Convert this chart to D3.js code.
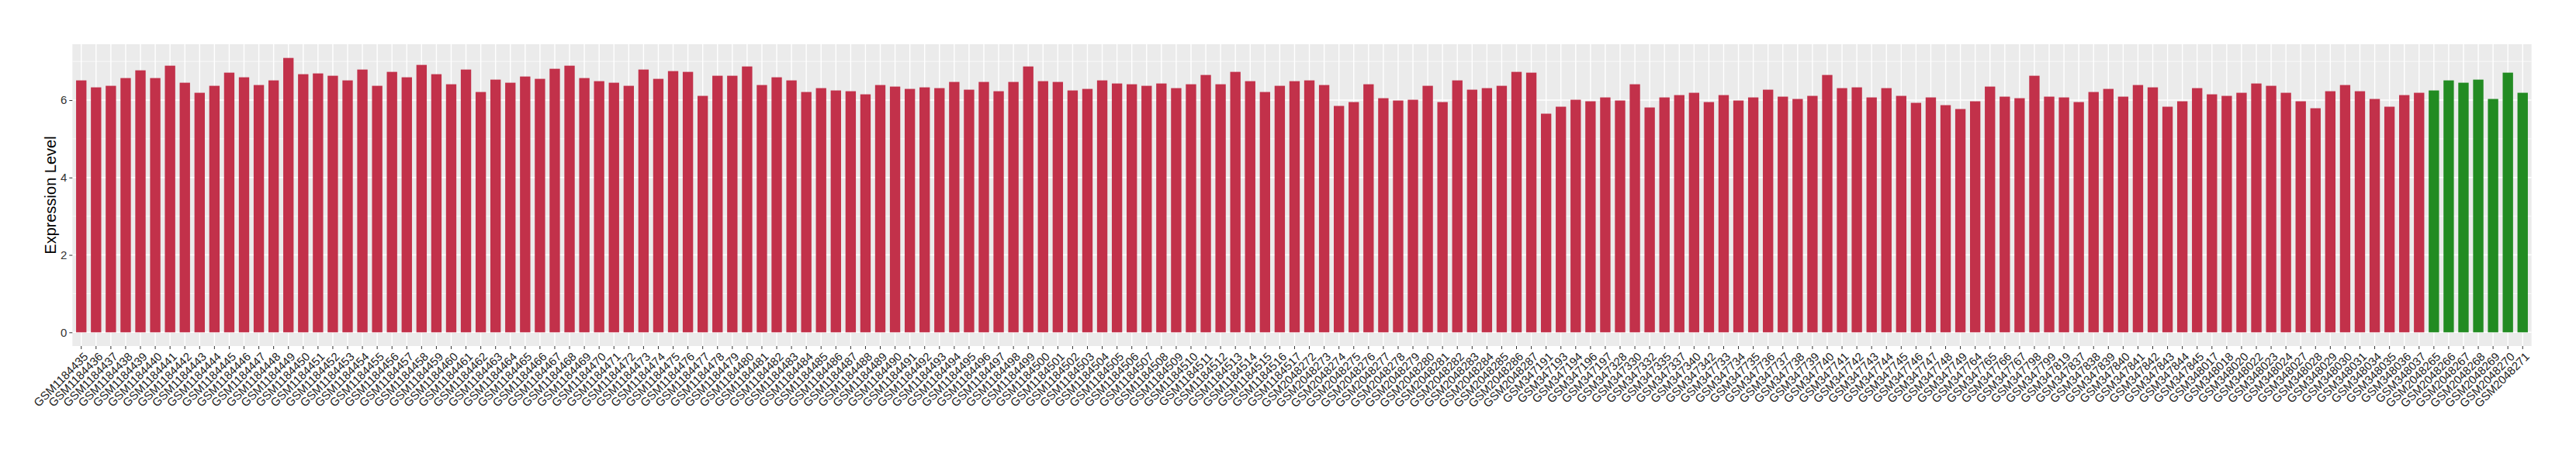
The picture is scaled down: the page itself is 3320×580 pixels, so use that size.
<!DOCTYPE html>
<html>
<head>
<meta charset="utf-8">
<script src="https://cdn.jsdelivr.net/npm/d3@7"></script>
<style>
  body { margin: 0; background: #fff; }
  text { font-family: "Liberation Sans", Arial, sans-serif; }
</style>
</head>
<body>
<div id="chart"></div>
<script>
// canvas
const width = 3320,
  height = 580,
  panelLeft = 93.3,
  panelRight = 3262.7,
  panelTop = 57,
  panelBottom = 446

// sample ids, in plotted order
const samples = [
  'GSM1184435','GSM1184436','GSM1184437','GSM1184438','GSM1184439','GSM1184440','GSM1184441','GSM1184442','GSM1184443','GSM1184444',
  'GSM1184445','GSM1184446','GSM1184447','GSM1184448','GSM1184449','GSM1184450','GSM1184451','GSM1184452','GSM1184453','GSM1184454',
  'GSM1184455','GSM1184456','GSM1184457','GSM1184458','GSM1184459','GSM1184460','GSM1184461','GSM1184462','GSM1184463','GSM1184464',
  'GSM1184465','GSM1184466','GSM1184467','GSM1184468','GSM1184469','GSM1184470','GSM1184471','GSM1184472','GSM1184473','GSM1184474',
  'GSM1184475','GSM1184476','GSM1184477','GSM1184478','GSM1184479','GSM1184480','GSM1184481','GSM1184482','GSM1184483','GSM1184484',
  'GSM1184485','GSM1184486','GSM1184487','GSM1184488','GSM1184489','GSM1184490','GSM1184491','GSM1184492','GSM1184493','GSM1184494',
  'GSM1184495','GSM1184496','GSM1184497','GSM1184498','GSM1184499','GSM1184500','GSM1184501','GSM1184502','GSM1184503','GSM1184504',
  'GSM1184505','GSM1184506','GSM1184507','GSM1184508','GSM1184509','GSM1184510','GSM1184511','GSM1184512','GSM1184513','GSM1184514',
  'GSM1184515','GSM1184516','GSM1184517',
  'GSM2048272','GSM2048273','GSM2048274','GSM2048275','GSM2048276','GSM2048277','GSM2048278','GSM2048279','GSM2048280','GSM2048281',
  'GSM2048282','GSM2048283','GSM2048284','GSM2048285','GSM2048286','GSM2048287',
  'GSM347191','GSM347193','GSM347194','GSM347196','GSM347197','GSM347328','GSM347330','GSM347332','GSM347335','GSM347337',
  'GSM347340','GSM347342','GSM347733','GSM347734','GSM347735','GSM347736','GSM347737','GSM347738','GSM347739','GSM347740',
  'GSM347741','GSM347742','GSM347743','GSM347744','GSM347745','GSM347746','GSM347747','GSM347748','GSM347749','GSM347764',
  'GSM347765','GSM347766','GSM347767','GSM347798','GSM347799','GSM347819','GSM347837','GSM347838','GSM347839','GSM347840',
  'GSM347841','GSM347842','GSM347843','GSM347844','GSM347845','GSM348017','GSM348018','GSM348020','GSM348022','GSM348023',
  'GSM348024','GSM348027','GSM348028','GSM348029','GSM348030','GSM348031','GSM348034','GSM348035','GSM348036','GSM348037',
  'GSM2048265','GSM2048266','GSM2048267','GSM2048268','GSM2048269','GSM2048270','GSM2048271'
]

// expression level per sample
const values = [
  6.51, 6.33, 6.37, 6.57, 6.77, 6.57, 6.89, 6.45, 6.19, 6.37,
  6.71, 6.59, 6.39, 6.51, 7.09, 6.67, 6.69, 6.63, 6.51, 6.79,
  6.37, 6.73, 6.59, 6.91, 6.67, 6.41, 6.79, 6.21, 6.53, 6.45,
  6.61, 6.55, 6.81, 6.89, 6.57, 6.49, 6.45, 6.37, 6.79, 6.55,
  6.75, 6.73, 6.11, 6.63, 6.63, 6.87, 6.39, 6.59, 6.51, 6.21,
  6.31, 6.25, 6.23, 6.15, 6.39, 6.35, 6.29, 6.33, 6.31, 6.47,
  6.27, 6.47, 6.23, 6.47, 6.87, 6.49, 6.47, 6.25, 6.29, 6.51,
  6.43, 6.41, 6.37, 6.43, 6.31, 6.41, 6.65, 6.41, 6.73, 6.49,
  6.21, 6.37, 6.49,
  6.51, 6.39, 5.85, 5.95, 6.41, 6.05, 5.99, 6.01, 6.37, 5.95,
  6.51, 6.27, 6.31, 6.37, 6.73, 6.71,
  5.65, 5.83, 6.01, 5.97, 6.07, 5.99, 6.41, 5.81, 6.07, 6.13,
  6.19, 5.95, 6.13, 5.99, 6.07, 6.27, 6.09, 6.03, 6.11, 6.65,
  6.31, 6.33, 6.07, 6.31, 6.11, 5.93, 6.07, 5.87, 5.77, 5.97,
  6.35, 6.09, 6.05, 6.63, 6.09, 6.07, 5.95, 6.21, 6.29, 6.09,
  6.39, 6.33, 5.83, 5.97, 6.31, 6.15, 6.11, 6.19, 6.43, 6.37,
  6.19, 5.97, 5.79, 6.23, 6.39, 6.23, 6.03, 5.83, 6.13, 6.19,
  6.25, 6.51, 6.45, 6.53, 6.03, 6.71, 6.19
]

// group of each sample: first 159 are "other", last 7 are "target"
const groups = samples.map((s, i) => i < 159 ? 'other' : 'target')
const groupColors = { other: '#c2314a', target: '#228b22' }

const yTicks = [0, 2, 4, 6]
const yMinor = [1, 3, 5, 7]

const svg = d3.select('#chart')
  .append('svg')
  .attr('width', width)
  .attr('height', height)

const data = samples.map((s, i) => ({ sample: s, value: values[i], group: groups[i] }))

const maxV = d3.max(values)
const yScale = d3.scaleLinear()
  .domain([-0.05 * maxV, 1.05 * maxV])
  .range([panelBottom, panelTop])

const xScale = d3.scaleBand()
  .domain(samples)
  .range([panelLeft, panelRight])
  .paddingInner(0.3)
  .paddingOuter(0.25)

// panel background
svg.append('rect')
  .attr('x', panelLeft)
  .attr('y', panelTop)
  .attr('width', panelRight - panelLeft)
  .attr('height', panelBottom - panelTop)
  .attr('fill', '#ebebeb')

// grid
svg.append('g').selectAll('line')
  .data(yMinor.filter(d => yScale(d) > panelTop))
  .enter().append('line')
  .attr('x1', panelLeft).attr('x2', panelRight)
  .attr('y1', d => yScale(d)).attr('y2', d => yScale(d))
  .attr('stroke', '#fff').attr('stroke-width', 0.7)

svg.append('g').selectAll('line')
  .data(yTicks)
  .enter().append('line')
  .attr('x1', panelLeft).attr('x2', panelRight)
  .attr('y1', d => yScale(d)).attr('y2', d => yScale(d))
  .attr('stroke', '#fff').attr('stroke-width', 1.4)

svg.append('g').selectAll('line')
  .data(samples)
  .enter().append('line')
  .attr('x1', d => xScale(d) + xScale.bandwidth() / 2)
  .attr('x2', d => xScale(d) + xScale.bandwidth() / 2)
  .attr('y1', panelTop).attr('y2', panelBottom)
  .attr('stroke', '#fff').attr('stroke-width', 1.4)

// bars
svg.append('g').selectAll('rect')
  .data(data)
  .enter()
  .append('rect')
  .attr('x', d => xScale(d.sample))
  .attr('y', d => yScale(d.value))
  .attr('width', xScale.bandwidth())
  .attr('height', d => yScale(0) - yScale(d.value))
  .attr('fill', d => groupColors[d.group])

// y axis
const yAxis = d3.axisLeft(yScale).tickValues(yTicks).tickSize(4).tickPadding(3)
const gy = svg.append('g')
  .attr('transform', `translate(${panelLeft},0)`)
  .call(yAxis)
gy.select('.domain').remove()
gy.selectAll('.tick line').attr('stroke', '#333').attr('stroke-width', 1)
gy.selectAll('.tick text')
  .attr('fill', '#333')
  .style('font-size', '15px')
  .style('font-family', '"Liberation Sans", Arial, sans-serif')

// x axis
const xAxis = d3.axisBottom(xScale).tickSize(4).tickPadding(0)
const gx = svg.append('g')
  .attr('transform', `translate(0,${panelBottom})`)
  .call(xAxis)
gx.select('.domain').remove()
gx.selectAll('.tick line').attr('stroke', '#333').attr('stroke-width', 1)
gx.selectAll('.tick text')
  .attr('fill', '#222')
  .style('font-size', '15px')
  .style('font-family', '"Liberation Sans", Arial, sans-serif')
  .attr('text-anchor', 'end')
  .attr('y', 0)
  .attr('dy', '0.72em')
  .attr('transform', 'translate(2,7) rotate(-45)')

// y title
svg.append('text')
  .attr('transform', `translate(72,${(panelTop + panelBottom) / 2}) rotate(-90)`)
  .attr('text-anchor', 'middle')
  .style('font-size', '20px')
  .attr('fill', '#000')
  .text('Expression Level')
</script>
</body>
</html>
